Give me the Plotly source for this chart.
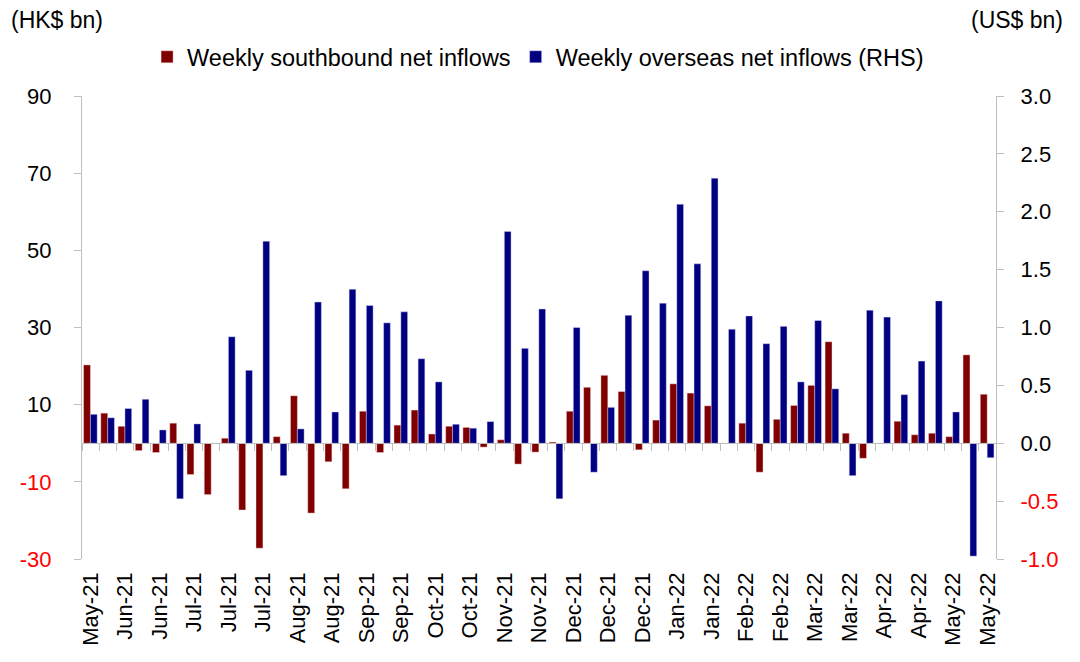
import plotly.graph_objects as go

# Weekly data, May-21 .. May-22 (53 weeks)
southbound = [20.3, 7.8, 4.4, -1.9, -2.4, 5.2, -8.1, -13.3, 1.3, -17.3, -27.2, 1.7, 12.3,
              -18.1, -4.8, -11.8, 8.3, -2.4, 4.7, 8.6, 2.4, 4.4, 4.1, -1.0, 0.9, -5.4,
              -2.3, 0.3, 8.3, 14.5, 17.6, 13.4, -1.7, 6.0, 15.4, 13.0, 9.7, 0.0, 5.2,
              -7.5, 6.2, 9.8, 15.0, 26.3, 2.6, -3.9, 0.0, 5.7, 2.2, 2.6, 1.7, 22.9, 12.7]
overseas = [0.25, 0.22, 0.30, 0.38, 0.115, -0.48, 0.167, 0.0, 0.92, 0.63, 1.745, -0.28, 0.124,
            1.22, 0.27, 1.33, 1.19, 1.04, 1.135, 0.73, 0.53, 0.164, 0.13, 0.187, 1.83, 0.82,
            1.16, -0.48, 1.0, -0.25, 0.31, 1.105, 1.49, 1.21, 2.065, 1.55, 2.29, 0.985, 1.10,
            0.86, 1.01, 0.53, 1.06, 0.47, -0.28, 1.15, 1.09, 0.42, 0.71, 1.23, 0.27, -0.975, -0.125]
tick_labels = ["May-21", "Jun-21", "Jun-21", "Jul-21", "Jul-21", "Jul-21", "Aug-21", "Aug-21",
               "Sep-21", "Sep-21", "Oct-21", "Oct-21", "Nov-21", "Nov-21", "Dec-21", "Dec-21",
               "Dec-21", "Jan-22", "Jan-22", "Feb-22", "Feb-22", "Mar-22", "Mar-22", "Apr-22",
               "Apr-22", "May-22", "May-22"]
left_ticks = [-30, -10, 10, 30, 50, 70, 90]
right_ticks = [-1.0, -0.5, 0.0, 0.5, 1.0, 1.5, 2.0, 2.5, 3.0]

n = len(southbound)
weeks = list(range(n))
RED = "#7f0000"
BLUE = "#000080"
GRAY = "#bfbfbf"
FONT = "Liberation Sans, Arial, sans-serif"

# the page body adds an 8px margin; figure is sized so the plot lands where intended
W, H = 1064, 646


def lab(v, fmt):
    s = fmt.format(v)
    if v < 0:
        return "<span style='color:#ff0000'>" + s + "</span>"
    return s


fig = go.Figure()
fig.add_trace(go.Bar(
    x=weeks, y=southbound, name="Weekly southbound net inflows",
    marker=dict(color=RED, line=dict(color="rgba(255,220,220,0.7)", width=0.6)),
    width=0.4, offset=-0.41, xaxis="x", yaxis="y"))
fig.add_trace(go.Bar(
    x=weeks, y=overseas, name="Weekly overseas net inflows (RHS)",
    marker=dict(color=BLUE, line=dict(color="rgba(220,220,255,0.7)", width=0.6)),
    width=0.39, offset=-0.01, xaxis="x2", yaxis="y2"))

xr = [-0.5, n - 0.5]
fig.update_layout(
    width=W, height=H,
    margin=dict(l=74, r=76, t=88, b=95, autoexpand=False),
    paper_bgcolor="white", plot_bgcolor="white",
    font=dict(family=FONT, color="black", size=21),
    showlegend=True,
    legend=dict(orientation="h", x=0.499, xanchor="center", xref="paper",
                y=1 - 49 / H, yref="container", yanchor="middle",
                font=dict(size=23.5), bgcolor="rgba(0,0,0,0)", traceorder="normal"),
    bargap=0.2,
    xaxis=dict(range=xr, showline=False, ticks="", showgrid=False, zeroline=False,
               tickmode="array", tickvals=weeks[::2], ticktext=tick_labels,
               tickangle=-90, tickfont=dict(size=22), ticklabelstandoff=8, automargin=False),
    xaxis2=dict(range=xr, overlaying="x", anchor="free", position=0.25,
                showline=True, linecolor=GRAY, linewidth=1.3,
                showgrid=False, zeroline=False, showticklabels=False,
                ticks="outside", ticklen=7, tickcolor=GRAY, tickwidth=1.3,
                tickmode="array", tickvals=[i + 0.5 for i in range(-1, n)], automargin=False),
    yaxis=dict(range=[-30, 90], tickmode="array", tickvals=left_ticks,
               ticktext=[lab(v, "{:d}") for v in left_ticks],
               showline=True, linecolor=GRAY, linewidth=1.3, ticks="outside",
               ticklen=7, tickcolor=GRAY, tickwidth=1.3, showgrid=False, zeroline=False,
               ticklabelstandoff=18, tickfont=dict(size=22), automargin=False),
    yaxis2=dict(range=[-1.0, 3.0], overlaying="y", side="right", anchor="x",
                tickmode="array", tickvals=right_ticks,
                ticktext=[lab(v, "{:.1f}") for v in right_ticks],
                showline=True, linecolor=GRAY, linewidth=1.3, ticks="outside",
                ticklen=7, tickcolor=GRAY, tickwidth=1.3, showgrid=False, zeroline=False,
                ticklabelstandoff=12, tickfont=dict(size=22), automargin=False),
    annotations=[
        dict(text="(HK$ bn)", xref="paper", yref="paper", x=(9 - 82) / 914, xanchor="left",
             y=(559 - 20) / 463, yanchor="middle", showarrow=False, font=dict(size=23)),
        dict(text="(US$ bn)", xref="paper", yref="paper", x=(1065 - 82) / 914, xanchor="right",
             y=(559 - 20) / 463, yanchor="middle", showarrow=False, font=dict(size=23)),
    ],
)

fig.write_html("out.html")
